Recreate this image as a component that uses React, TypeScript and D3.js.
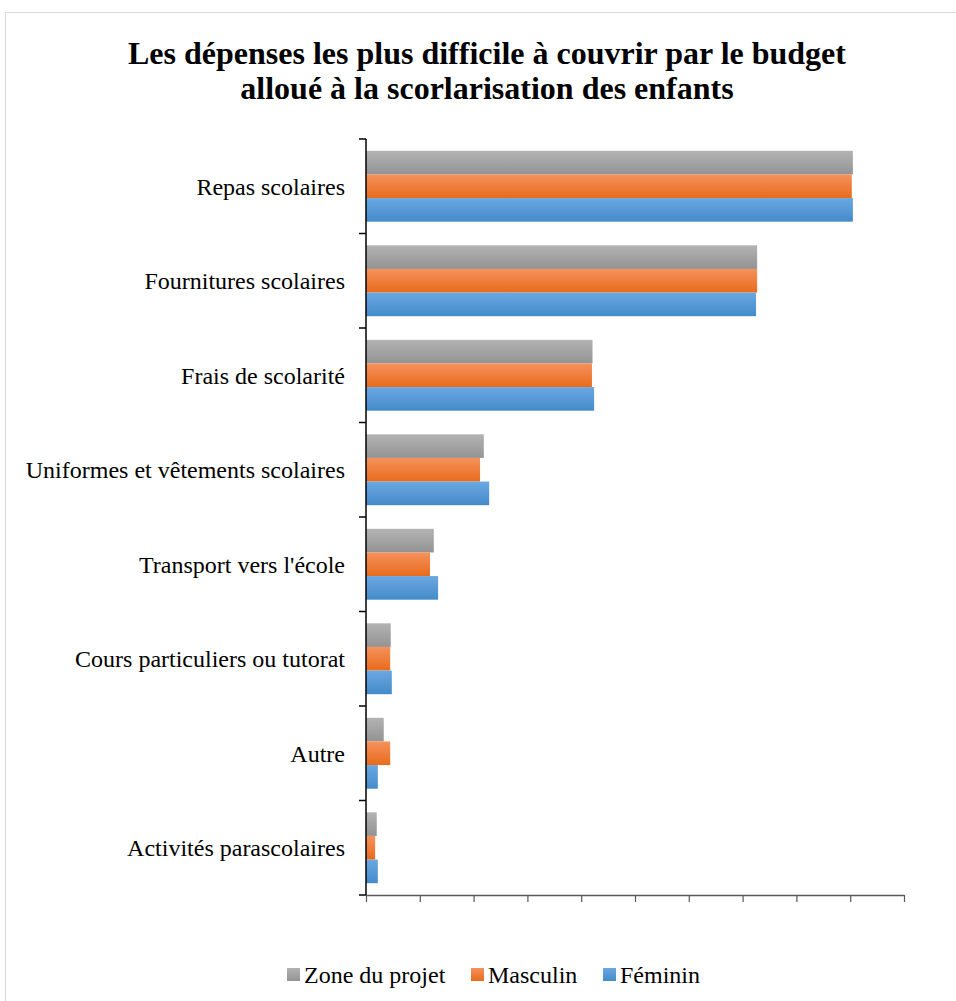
import React, {useEffect, useRef} from 'react';
import * as d3 from 'd3';

const categories: string[] = [
  'Repas scolaires',
  'Fournitures scolaires',
  'Frais de scolarité',
  'Uniformes et vêtements scolaires',
  "Transport vers l'école",
  'Cours particuliers ou tutorat',
  'Autre',
  'Activités parascolaires',
];

const seriesNames: string[] = ['Zone du projet', 'Masculin', 'Féminin'];

const zoneValues: number[] = [90.5, 72.7, 42.1, 21.9, 12.6, 4.6, 3.3, 2.0];
const masculinValues: number[] = [90.3, 72.7, 42.0, 21.2, 11.9, 4.5, 4.5, 1.7];
const femininValues: number[] = [90.5, 72.5, 42.4, 22.9, 13.4, 4.8, 2.2, 2.2];

const xTicks: number[] = [0, 10, 20, 30, 40, 50, 60, 70, 80, 90, 100];

const titleLines: string[] = [
  'Les dépenses les plus difficile à couvrir par le budget',
  'alloué à la scorlarisation des enfants',
];

const W = 956;
const H = 1001;
const margin = {top: 139, left: 366, right: 52, bottom: 106};

const gradients = [
  {id: 'gZone', top: '#b3b3b3', bottom: '#939393'},
  {id: 'gMasc', top: '#f5925c', bottom: '#e86b1c'},
  {id: 'gFem', top: '#6ba8e2', bottom: '#448bca'},
];

const App = () => {
  const ref: any = useRef();

  useEffect(() => {
    const svg = d3.select(ref.current);
    svg.selectAll('*').remove();

    const serif = "'Liberation Serif', 'Times New Roman', serif";

    const defs = svg.append('defs');
    gradients.forEach(g => {
      const lg = defs.append('linearGradient')
        .attr('id', g.id)
        .attr('x1', 0).attr('y1', 0).attr('x2', 0).attr('y2', 1);
      lg.append('stop').attr('offset', '0%').attr('stop-color', g.top);
      lg.append('stop').attr('offset', '100%').attr('stop-color', g.bottom);
    });

    svg.append('rect')
      .attr('x', 5.5).attr('y', 12.5)
      .attr('width', W + 20).attr('height', H + 20)
      .attr('fill', '#fff')
      .attr('stroke', '#d9d9d9');

    svg.append('g')
      .selectAll('text')
      .data(titleLines)
      .join('text')
      .attr('x', 487)
      .attr('y', (d, i) => 64 + i * 35)
      .attr('text-anchor', 'middle')
      .style('font-family', serif)
      .style('font-weight', 'bold')
      .style('font-size', '32px')
      .text(d => d);

    const x = d3.scaleLinear()
      .domain([0, 100])
      .range([margin.left, W - margin.right]);

    const y = d3.scaleBand()
      .domain(categories)
      .range([margin.top, H - margin.bottom])
      .paddingInner(0.25)
      .paddingOuter(0.125);

    const y1 = d3.scaleBand()
      .domain(seriesNames)
      .range([0, y.bandwidth()]);

    const table = categories.map((c, i) => ({
      c,
      vals: [zoneValues[i], masculinValues[i], femininValues[i]],
    }));

    const groups = svg.append('g')
      .selectAll('g')
      .data(table)
      .join('g')
      .attr('transform', d => `translate(0,${y(d.c)})`);

    groups.selectAll('rect')
      .data(d => d.vals.map((v, k) => ({v, k})))
      .join('rect')
      .attr('x', x(0))
      .attr('y', d => y1(seriesNames[d.k]) as number)
      .attr('width', d => x(d.v) - x(0))
      .attr('height', y1.bandwidth())
      .attr('fill', d => `url(#${gradients[d.k].id})`);

    // x axis, no labels
    const xAxis = svg.append('g')
      .attr('transform', `translate(0,${H - margin.bottom})`)
      .call(d3.axisBottom(x).tickValues(xTicks).tickSize(7).tickSizeOuter(0).tickFormat(() => ''));
    xAxis.select('.domain').attr('stroke', '#595959').attr('stroke-width', 1.5);
    xAxis.selectAll('.tick line').attr('stroke', '#595959').attr('stroke-width', 1.2);

    // y axis
    const bandStep = y.step();
    const yBounds = categories.map((c, i) => margin.top + i * bandStep).concat([H - margin.bottom]);
    const yAxis = svg.append('g');
    yAxis.append('line')
      .attr('x1', margin.left).attr('x2', margin.left)
      .attr('y1', margin.top).attr('y2', H - margin.bottom)
      .attr('stroke', '#000').attr('stroke-width', 1.5);
    yAxis.selectAll('line.tk')
      .data(yBounds)
      .join('line')
      .attr('class', 'tk')
      .attr('x1', margin.left - 7).attr('x2', margin.left)
      .attr('y1', d => d).attr('y2', d => d)
      .attr('stroke', '#000').attr('stroke-width', 1.5);
    yAxis.selectAll('text')
      .data(categories)
      .join('text')
      .attr('x', margin.left - 21)
      .attr('y', d => (y(d) as number) + y.bandwidth() / 2)
      .attr('dy', '0.35em')
      .attr('text-anchor', 'end')
      .style('font-family', serif)
      .style('font-size', '24px')
      .text(d => d);

    // legend
    const legendX = [287, 471, 603];
    const legend = svg.append('g')
      .selectAll('g')
      .data(seriesNames)
      .join('g')
      .attr('transform', (d, i) => `translate(${legendX[i]},975)`);
    legend.append('rect')
      .attr('x', 0).attr('y', -7)
      .attr('width', 13).attr('height', 13)
      .attr('fill', (d, i) => `url(#${gradients[i].id})`);
    legend.append('text')
      .attr('x', 17)
      .attr('y', 0)
      .attr('dy', '0.35em')
      .style('font-family', serif)
      .style('font-size', '24px')
      .text(d => d);
  }, []);

  return (
    <svg ref={ref} width={W} height={H}
         style={{position: 'absolute', left: 0, top: 0, background: '#fff'}}/>
  );
};

export default App;
